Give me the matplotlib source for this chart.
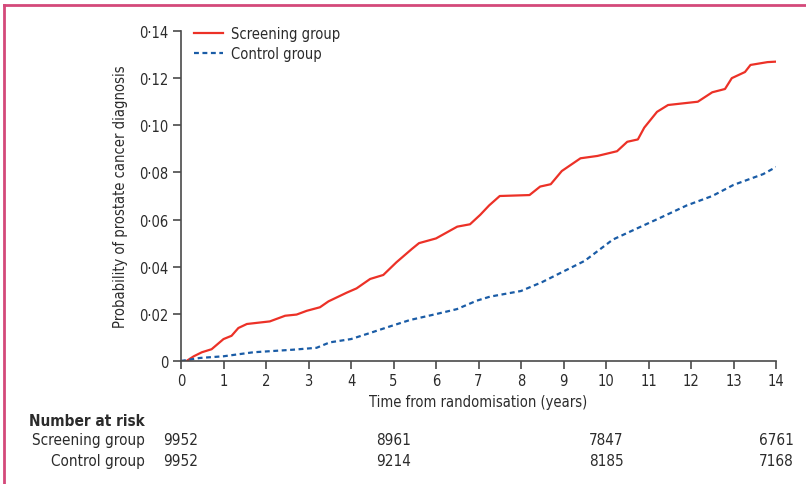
import matplotlib.pyplot as plt
from matplotlib.lines import Line2D

plt.rcParams['font.family'] = ['DejaVu Sans']
plt.rcParams['font.stretch'] = 'condensed'

# cumulative probability of prostate cancer diagnosis
screen_t = [0, 0.13, 0.3, 0.49, 0.72, 1.0, 1.19, 1.35, 1.55, 2.09, 2.45, 2.72, 2.96,
            3.27, 3.47, 3.9, 4.13, 4.45, 4.76, 5.07, 5.43, 5.6, 6.0, 6.3, 6.5, 6.8,
            7.04, 7.25, 7.5, 8.2, 8.45, 8.7, 8.96, 9.4, 9.8, 10.26, 10.5, 10.75, 10.9,
            11.2, 11.46, 12.16, 12.5, 12.8, 12.96, 13.27, 13.4, 13.8, 14.0]
screen_p = [0, 0, 0.002, 0.0037, 0.005, 0.0093, 0.0107, 0.014, 0.0157, 0.0168, 0.0192,
            0.0197, 0.0213, 0.0228, 0.0253, 0.029, 0.0308, 0.0348, 0.0365, 0.0419, 0.0475,
            0.050, 0.052, 0.055, 0.057, 0.058, 0.062, 0.066, 0.070, 0.0704, 0.074, 0.075,
            0.0806, 0.086, 0.087, 0.089, 0.093, 0.094, 0.099, 0.1057, 0.1086, 0.110, 0.114,
            0.1154, 0.120, 0.1226, 0.1256, 0.1268, 0.127]

control_t = [0, 0.45, 1.0, 1.7, 2.64, 3.19, 3.5, 4.0, 4.45, 4.92, 5.39, 6.0, 6.49, 6.96,
             7.27, 8.0, 8.5, 9.0, 9.5, 10.16, 10.7, 11.27, 11.9, 12.5, 13.0, 13.7, 14.0]
control_p = [0, 0.0013, 0.002, 0.0037, 0.0048, 0.0056, 0.0079, 0.0093, 0.0119, 0.0147,
             0.0174, 0.0199, 0.022, 0.0256, 0.0273, 0.0297, 0.0335, 0.038, 0.0425, 0.0515,
             0.056, 0.0607, 0.066, 0.070, 0.0747, 0.0793, 0.0823]

risk_years = [0, 5, 10, 14]
risk_screen = ['9952', '8961', '7847', '6761']
risk_control = ['9952', '9214', '8185', '7168']

y_ticks = [0, 0.02, 0.04, 0.06, 0.08, 0.10, 0.12, 0.14]
y_labels = ['0', '0·02', '0·04', '0·06', '0·08', '0·10', '0·12', '0·14']

red = '#ec3127'
blue = '#1a5ca6'
axis_col = '#4a4a4a'
txt = '#2b2b2b'

fig = plt.figure(figsize=(8.06, 4.85), dpi=100)
ax = fig.add_axes([181 / 806, 1 - 362 / 485, 595 / 806, 330 / 485])

ax.plot(screen_t, screen_p, color=red, lw=1.6, label='Screening group')
ax.plot(control_t, control_p, color=blue, lw=1.6, dashes=(2.2, 1.6), label='Control group')

ax.set_xlim(0, 14)
ax.set_ylim(0, 0.14)
ax.set_xticks(range(15))
ax.set_yticks(y_ticks)
ax.set_yticklabels(y_labels)
for s in ['top', 'right']:
    ax.spines[s].set_visible(False)
for s in ['left', 'bottom']:
    ax.spines[s].set_color(axis_col)
    ax.spines[s].set_linewidth(1.2)
ax.tick_params(colors=axis_col, labelcolor=txt, labelsize=10.5, length=6, width=1.2, pad=3)

ax.set_xlabel('Time from randomisation (years)', fontsize=10.5, color=txt, labelpad=4)
ax.set_ylabel('Probability of prostate cancer diagnosis', fontsize=10.5, color=txt, labelpad=8)

ax.legend(loc='upper left', bbox_to_anchor=(0.0, 1.055), frameon=False, fontsize=10.5,
          handlelength=2.0, handletextpad=0.5, labelspacing=0.35, labelcolor=txt)

# number at risk table
trans = ax.get_xaxis_transform()
fig.text(145 / 806, 1 - 422 / 485, 'Number at risk', fontsize=11, fontweight='bold',
         color=txt, va='center', ha='right')
fig.text(145 / 806, 1 - 441 / 485, 'Screening group', fontsize=11, color=txt,
         va='center', ha='right')
fig.text(145 / 806, 1 - 462 / 485, 'Control group', fontsize=11, color=txt,
         va='center', ha='right')
for yr, a, b in zip(risk_years, risk_screen, risk_control):
    ax.text(yr, (362 - 441) / 330, a, transform=trans, fontsize=11, color=txt,
            ha='center', va='center')
    ax.text(yr, (362 - 462) / 330, b, transform=trans, fontsize=11, color=txt,
            ha='center', va='center')

# pink frame on the top and left edge
fig.add_artist(Line2D([3.5 / 806, 1], [1 - 5.5 / 485, 1 - 5.5 / 485], color='#d4497a', lw=2))
fig.add_artist(Line2D([3.5 / 806, 3.5 / 806], [0, 1 - 5.5 / 485], color='#d4497a', lw=2))

fig.savefig('out.png', dpi=100)
